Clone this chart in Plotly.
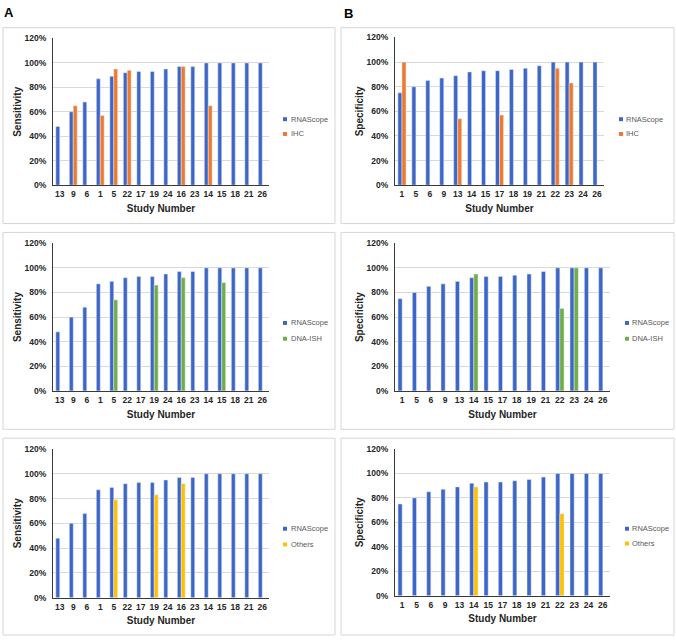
import plotly.graph_objects as go

W, H = 676, 643

# sensitivity panels (column A)
sens_studies = ["13", "9", "6", "1", "5", "22", "17", "19", "24", "16", "23", "14", "15", "18", "21", "26"]
sens_rnascope = [48, 60, 68, 87, 89, 92, 93, 93, 95, 97, 97, 100, 100, 100, 100, 100]
sens_ihc = [None, 65, None, 57, 95, 94, None, None, None, 97, None, 65, None, None, None, None]
sens_dnaish = [None, None, None, None, 74, None, None, 86, None, 92, None, None, 88, None, None, None]
sens_others = [None, None, None, None, 79, None, None, 83, None, 92, None, None, None, None, None, None]

# specificity panels (column B)
spec_studies = ["1", "5", "6", "9", "13", "14", "15", "17", "18", "19", "21", "22", "23", "24", "26"]
spec_rnascope = [75, 80, 85, 87, 89, 92, 93, 93, 94, 95, 97, 100, 100, 100, 100]
spec_ihc = [100, None, None, None, 54, None, None, 57, None, None, None, 95, 83, None, None]
spec_dnaish = [None, None, None, None, None, 95, None, None, None, None, None, 67, 100, None, None]
spec_others = [None, None, None, None, None, 89, None, None, None, None, None, 67, None, None, None]

y_ticks = [0, 20, 40, 60, 80, 100, 120]
y_ticktext = [str(v) + "%" for v in y_ticks]

BLUE = "#3D66C6"
ORANGE = "#EF7A2E"
GREEN = "#70AD47"
YELLOW = "#FFC000"

# panel layout in pixels: box, plot area (x0, x1, ytop, ybottom), legend square x, text x, legend rows y
panels = [
    dict(x=sens_studies, a=sens_rnascope, b=sens_ihc, bname="IHC", bcol=ORANGE, ytitle="Sensitivity",
         box=(3, 23, 335, 222), area=(53, 269, 34, 183), lx=283, tx=289, ly=(116, 131)),
    dict(x=sens_studies, a=sens_rnascope, b=sens_dnaish, bname="DNA-ISH", bcol=GREEN, ytitle="Sensitivity",
         box=(3, 231, 335, 431), area=(53, 269, 242, 392), lx=283, tx=289, ly=(323, 339)),
    dict(x=sens_studies, a=sens_rnascope, b=sens_others, bname="Others", bcol=YELLOW, ytitle="Sensitivity",
         box=(3, 440, 335, 640), area=(53, 269, 451, 602), lx=283, tx=289, ly=(532, 548)),
    dict(x=spec_studies, a=spec_rnascope, b=spec_ihc, bname="IHC", bcol=ORANGE, ytitle="Specificity",
         box=(341, 23, 674, 222), area=(395, 604, 33, 183), lx=619, tx=624, ly=(116, 131)),
    dict(x=spec_studies, a=spec_rnascope, b=spec_dnaish, bname="DNA-ISH", bcol=GREEN, ytitle="Specificity",
         box=(341, 231, 674, 431), area=(395, 610, 242, 392), lx=625, tx=630, ly=(323, 339)),
    dict(x=spec_studies, a=spec_rnascope, b=spec_others, bname="Others", bcol=YELLOW, ytitle="Specificity",
         box=(341, 440, 674, 640), area=(395, 610, 451, 600), lx=625, tx=630, ly=(532, 547)),
]


def px(x):
    return x / W


def py(y):
    return 1 - y / H


fig = go.Figure()
shapes = []
annotations = []
layout = {}

tick_font = dict(family="Liberation Sans, Arial", size=8.5, color="#262626", weight="bold")
title_font = dict(family="Liberation Sans, Arial", size=10, color="#262626", weight="bold")

for i, p in enumerate(panels, start=1):
    sfx = "" if i == 1 else str(i)
    xa, ya = "x" + sfx, "y" + sfx
    fig.add_trace(go.Bar(x=p["x"], y=p["a"], name="RNAScope", marker_color=BLUE,
                         xaxis=xa, yaxis=ya, showlegend=False))
    fig.add_trace(go.Bar(x=p["x"], y=p["b"], name=p["bname"], marker_color=p["bcol"],
                         xaxis=xa, yaxis=ya, showlegend=False))

    x0, x1, yt, yb = p["area"]
    layout["xaxis" + sfx] = dict(
        domain=[px(x0), px(x1)], anchor=ya, type="category", showgrid=False,
        showline=True, linecolor="#3a3a3a", linewidth=1, ticks="", tickfont=tick_font,
        ticklabelstandoff=1,
        title=dict(text="Study Number", font=title_font, standoff=6), fixedrange=True)
    layout["yaxis" + sfx] = dict(
        domain=[py(yb), py(yt)], anchor=xa, range=[0, 120], tickmode="array",
        tickvals=y_ticks, ticktext=y_ticktext,
        showgrid=True, gridcolor="#D9D9D9", gridwidth=1, zeroline=False,
        showline=True, linecolor="#3a3a3a", linewidth=1, ticks="", tickfont=tick_font,
        ticklabelstandoff=4,
        title=dict(text=p["ytitle"], font=title_font, standoff=1), fixedrange=True)

    bx0, by0, bx1, by1 = p["box"]
    shapes.append(dict(type="rect", xref="paper", yref="paper", x0=px(bx0), x1=px(bx1),
                       y0=py(by1), y1=py(by0), line=dict(color="#D6D6D6", width=1), layer="below"))

    # legend entries
    for name, col, yy in [("RNAScope", BLUE, p["ly"][0]), (p["bname"], p["bcol"], p["ly"][1])]:
        shapes.append(dict(type="rect", xref="paper", yref="paper",
                           x0=px(p["lx"]), x1=px(p["lx"] + 4), y0=py(yy + 2), y1=py(yy - 2),
                           fillcolor=col, line=dict(width=0)))
        annotations.append(dict(text=name, xref="paper", yref="paper", x=px(p["tx"]), y=py(yy),
                                xanchor="left", yanchor="middle", showarrow=False,
                                font=dict(family="Liberation Sans, Arial", size=7.5, color="#595959")))

annotations.append(dict(text="<b>A</b>", xref="paper", yref="paper", x=px(2), y=py(8),
                        xanchor="left", yanchor="middle", showarrow=False,
                        font=dict(family="Liberation Sans, Arial", size=13, color="#000000")))
annotations.append(dict(text="<b>B</b>", xref="paper", yref="paper", x=px(342), y=py(9),
                        xanchor="left", yanchor="middle", showarrow=False,
                        font=dict(family="Liberation Sans, Arial", size=13, color="#000000")))

fig.update_layout(
    width=W, height=H,
    margin=dict(l=0, r=0, t=0, b=0),
    paper_bgcolor="white", plot_bgcolor="white",
    barmode="group", bargap=0.42, bargroupgap=0,
    shapes=shapes, annotations=annotations,
    **layout,
)

# drop the default page margin so the figure sits at the window's corner
fig.write_html("out.html", config={"displayModeBar": False},
               post_script="document.body.style.margin='0px';")
